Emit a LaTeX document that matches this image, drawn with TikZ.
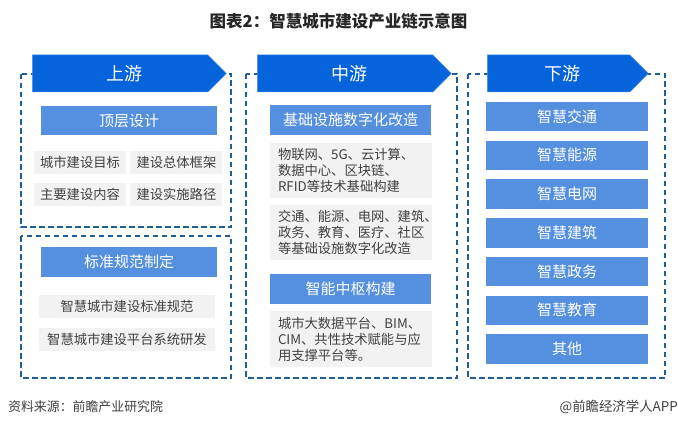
\documentclass[tikz,border=0pt]{standalone}
\usepackage{fontspec}
\setmainfont{Noto Sans CJK SC}
\usetikzlibrary{shapes}
\usetikzlibrary{positioning}
\definecolor{arrowblue}{HTML}{0563DC}
\definecolor{barblue}{HTML}{5590E0}
\definecolor{dashblue}{HTML}{1F5E96}
\definecolor{boxgray}{HTML}{F2F2F2}
\definecolor{textgray}{HTML}{404040}
\tikzset{
    headnode/.style = {signal, signal to=east, signal pointer angle=90, anchor=west, fill=arrowblue, draw=arrowblue!70, line width=0.5pt, inner sep=0pt, minimum height=37pt, align=center, font=\fontsize{18}{20}\selectfont, text=white, execute at begin node=\hspace*{8pt}},
    barnode/.style = {fill=barblue, inner sep=0pt, minimum height=29.5pt, align=center, font=\fontsize{15}{18}\selectfont, text=white},
    graynode/.style = {fill=boxgray, inner sep=0pt, align=center, font=\fontsize{13.3}{16}\selectfont, text=textgray},
    parnode/.style = {graynode, text width=146pt, minimum width=162pt, minimum height=55pt, align=left},
    dashbox/.style = {draw=dashblue, line width=1.4pt, dash pattern=on 5.5pt off 3.5pt},
    plainnode/.style = {inner sep=0pt, text=textgray}
}
\begin{document}
\begin{tikzpicture}[x=1pt,y=-1pt]
  \useasboundingbox[fill=white] (0,0) rectangle (678,428);
  % dashed frames
  \draw[dashbox] (21,74) rectangle (231,227);
  \draw[dashbox] (21,236) rectangle (231,378);
  \draw[dashbox] (246,74) rectangle (457,378);
  \draw[dashbox] (468,74) rectangle (665,378);
  % title
  \node[plainnode, font=\fontsize{16.5}{18}\selectfont\bfseries, text=black!85] (title) at (338.5,21) {图表2：智慧城市建设产业链示意图};
  % upstream
  \node[headnode, minimum width=194pt] (up) at (32,73.5) {上游};
  \node[barnode, minimum width=176pt] (top) at (129,120.5) {顶层设计};
  \node[graynode, minimum width=92pt, minimum height=23pt] (goal) at (80,162.5) {城市建设目标};
  \node[graynode, minimum width=92pt, minimum height=23pt, right=4pt of goal] (frame) {建设总体框架};
  \node[graynode, minimum width=92pt, minimum height=23pt, below=9pt of goal] (content) {主要建设内容};
  \node[graynode, minimum width=92pt, minimum height=23pt, right=4pt of content] (path) {建设实施路径};
  \node[barnode, minimum width=176pt] (std) at (129,262) {标准规范制定};
  \node[graynode, minimum width=176pt, minimum height=23pt] (stda) at (127,306.5) {智慧城市建设标准规范};
  \node[graynode, minimum width=176pt, minimum height=23pt, below=10pt of stda] (stdb) {智慧城市建设平台系统研发};
  % midstream
  \node[headnode, minimum width=194pt] (mid) at (257,73.5) {中游};
  \node[barnode, minimum width=161pt] (base) at (350.5,120) {基础设施数字化改造};
  \node[parnode] (basea) at (351,170.5) {物联网、5G、云计算、\\数据中心、区块链、\\RFID等技术基础构建};
  \node[parnode, below=7pt of basea] (baseb) {交通、能源、电网、建筑、\\政务、教育、医疗、社区\\等基础设施数字化改造};
  \node[barnode, minimum width=161pt] (hub) at (350.5,289) {智能中枢构建};
  \node[parnode, minimum height=56pt] (huba) at (351,339) {城市大数据平台、BIM、\\CIM、共性技术赋能与应\\用支撑平台等。};
  % downstream
  \node[headnode, minimum width=161pt] (down) at (487,73.5) {下游};
  \node[barnode, minimum width=162pt] (traffic) at (567,116.5) {智慧交通};
  \node[barnode, minimum width=162pt, below=8.85pt of traffic] (energy) {智慧能源};
  \node[barnode, minimum width=162pt, below=8.85pt of energy] (grid) {智慧电网};
  \node[barnode, minimum width=162pt, below=8.85pt of grid] (build) {智慧建筑};
  \node[barnode, minimum width=162pt, below=8.85pt of build] (gov) {智慧政务};
  \node[barnode, minimum width=162pt, below=8.85pt of gov] (edu) {智慧教育};
  \node[barnode, minimum width=162pt, below=8.85pt of edu] (other) {其他};
  % footer
  \node[plainnode, anchor=west, font=\fontsize{12.9}{14}\selectfont] (src) at (8,407) {资料来源：前瞻产业研究院};
  \node[plainnode, anchor=east, font=\fontsize{13.4}{14}\selectfont] (app) at (678,407) {@前瞻经济学人APP};
\end{tikzpicture}
\end{document}
